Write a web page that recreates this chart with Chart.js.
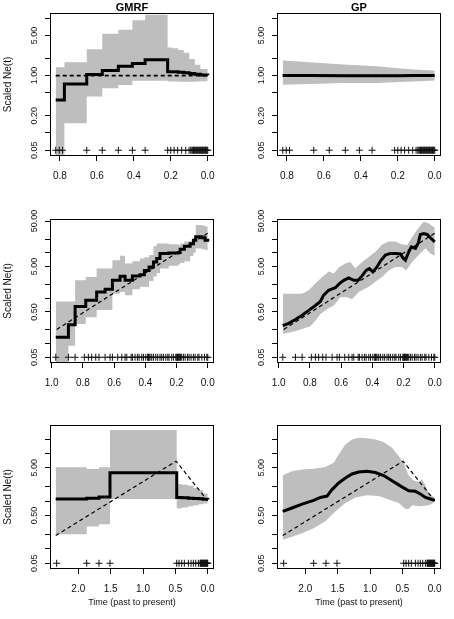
<!DOCTYPE html>
<html><head><meta charset="utf-8">
<script src="https://cdn.jsdelivr.net/npm/chart.js@4.4.1/dist/chart.umd.min.js"></script>
<style>
html,body{margin:0;padding:0;background:#fff;}
#wrap{position:relative;width:454px;height:619px;overflow:hidden;}
canvas{position:absolute;}
</style></head><body>
<div id="wrap">
<canvas id="c1" width="227" height="206" style="left:0;top:0"></canvas>
<canvas id="c2" width="227" height="206" style="left:227px;top:0"></canvas>
<canvas id="c3" width="227" height="206" style="left:0;top:206px"></canvas>
<canvas id="c4" width="227" height="206" style="left:227px;top:206px"></canvas>
<canvas id="c5" width="227" height="207" style="left:0;top:412px"></canvas>
<canvas id="c6" width="227" height="207" style="left:227px;top:412px"></canvas>
</div>
<script>
// ---------- text ----------
const COL_TITLES = ['GMRF', 'GP'];
const Y_TITLE = 'Scaled Ne(t)';
const X_TITLE = 'Time (past to present)';
const PLUS_LEVEL = 0.05;

// ---------- axis ticks ----------
const X_TICKS_CONST = [0, 0.2, 0.4, 0.6, 0.8];
const X_TICKS_EXP = [0, 0.2, 0.4, 0.6, 0.8, 1.0];
const X_TICKS_BB = [0, 0.5, 1.0, 1.5, 2.0];
const Y_TICKS_CONST = [0.05, 0.1, 0.2, 0.5, 1, 2, 5, 10];
const Y_LABEL_VALS_CONST = [0.05, 0.2, 1, 5];
const Y_LABELS_CONST = ['0.05', '0.20', '1.00', '5.00'];
const Y_TICKS_EXP = [0.05, 0.1, 0.2, 0.5, 1, 2, 5, 10, 20, 50];
const Y_LABEL_VALS_EXP = [0.05, 0.5, 5, 50];
const Y_LABELS_EXP = ['0.05', '0.50', '5.00', '50.00'];
const Y_TICKS_BB = [0.05, 0.1, 0.2, 0.5, 1, 2, 5, 10, 20];
const Y_LABEL_VALS_BB = [0.05, 0.5, 5];
const Y_LABELS_BB = ['0.05', '0.50', '5.00'];

// ---------- row 1: constant ----------
const SAMPLES_CONST = [0.823, 0.804, 0.786, 0.655, 0.571, 0.484, 0.408, 0.339, 0.217, 0.200, 0.182, 0.163, 0.141, 0.119, 0.101,
  0.092, 0.086, 0.081, 0.077, 0.072, 0.068, 0.064, 0.060, 0.056, 0.052, 0.048, 0.044, 0.040, 0.036, 0.032, 0.028, 0.024,
  0.020, 0.016, 0.012, 0.008, 0.004, 0.0];
const TRUE_CONST_T = [0.823, 0.0];
const TRUE_CONST_NE = [1, 1];
const GMRF_CONST_T   = [0.823, 0.776, 0.655, 0.571, 0.484, 0.408, 0.339, 0.217, 0.19, 0.16, 0.13, 0.10, 0.07, 0.04, 0.0];
const GMRF_CONST_MED = [0.375, 0.715, 1.04, 1.22, 1.46, 1.62, 1.88, 1.17, 1.16, 1.14, 1.12, 1.09, 1.05, 1.02, 1.01];
const GMRF_CONST_UP  = [1.40, 1.71, 2.88, 5.36, 6.3, 9.17, 11.5, 3.09, 3.0, 2.8, 2.5, 1.95, 1.55, 1.3, 1.25];
const GMRF_CONST_LO  = [0.02, 0.147, 0.43, 0.6, 0.685, 0.81, 0.81, 0.79, 0.79, 0.78, 0.78, 0.78, 0.79, 0.80, 0.80];
const GP_CONST_T   = [0.823, 0.677, 0.495, 0.314, 0.187, 0.114, 0.0];
const GP_CONST_MED = [1.0, 1.0, 0.99, 0.99, 0.99, 1.0, 1.0];
const GP_CONST_UP  = [1.83, 1.71, 1.56, 1.46, 1.33, 1.27, 1.22];
const GP_CONST_LO  = [0.69, 0.71, 0.74, 0.74, 0.77, 0.79, 0.82];

// ---------- row 2: exponential growth ----------
const SAMPLES_EXP = [0.974, 0.893, 0.850, 0.791, 0.765, 0.744, 0.718, 0.697, 0.658, 0.626, 0.611, 0.577, 0.551, 0.530, 0.519,
  0.491, 0.483, 0.466, 0.451, 0.440, 0.423, 0.412, 0.397, 0.385, 0.380, 0.376, 0.370, 0.359, 0.348, 0.333, 0.321, 0.306,
  0.295, 0.284, 0.269, 0.256, 0.248, 0.231, 0.220, 0.205, 0.199, 0.194, 0.190, 0.186, 0.182, 0.175, 0.167, 0.156, 0.145,
  0.130, 0.120, 0.107, 0.092, 0.081, 0.064, 0.056, 0.038, 0.021, 0.006, 0.0];
const TRUE_EXP_T = [0.968, 0.0];
const TRUE_EXP_NE = [0.205, 27];
const GMRF_EXP_T   = [0.974, 0.893, 0.850, 0.782, 0.712, 0.658, 0.611, 0.562, 0.530, 0.483, 0.434, 0.406, 0.376, 0.348, 0.327, 0.306, 0.250, 0.188, 0.177, 0.150, 0.113, 0.092, 0.077, 0.038, 0.017, 0.0];
const GMRF_EXP_MED = [0.138, 0.26, 0.66, 0.90, 1.37, 1.57, 2.48, 3.05, 2.48, 3.1, 3.3, 4.1, 4.9, 6.3, 7.5, 9.7, 9.9, 10.2, 12, 14, 15.8, 19, 22.6, 21.5, 19, 17.5];
const GMRF_EXP_UP  = [0.85, 0.85, 2.48, 2.94, 4.5, 4.5, 6.9, 8.6, 5.8, 6.5, 7.5, 8.0, 9.0, 14, 16, 16, 15.5, 14.9, 16, 17.7, 18, 22, 41, 40, 38, 36];
const GMRF_EXP_LO  = [0.02, 0.09, 0.27, 0.38, 0.55, 0.55, 1.26, 1.37, 1.16, 1.57, 1.78, 1.8, 2.4, 3.0, 3.6, 4.5, 5.2, 5.6, 6.0, 6.5, 8.5, 10, 12.5, 12, 11.5, 11];
const GP_EXP_T   = [0.974, 0.936, 0.893, 0.850, 0.808, 0.765, 0.733, 0.712, 0.680, 0.637, 0.611, 0.583, 0.551, 0.519, 0.491, 0.466, 0.440, 0.419, 0.397, 0.370, 0.348, 0.316, 0.284, 0.252, 0.220, 0.205, 0.188, 0.171, 0.150, 0.124, 0.107, 0.092, 0.070, 0.049, 0.028, 0.0];
const GP_EXP_MED = [0.25, 0.28, 0.34, 0.42, 0.54, 0.69, 0.85, 1.17, 1.5, 1.7, 2.1, 2.48, 2.8, 2.48, 2.48, 3.1, 4.1, 4.5, 3.8, 4.9, 6.6, 8.9, 9.7, 9.7, 9.5, 7.8, 6.9, 9.7, 13.5, 12.5, 16, 25.4, 26.6, 25.4, 21.5, 17.5];
const GP_EXP_UP_T = [0.974, 0.850, 0.808, 0.765, 0.722, 0.679, 0.647, 0.611, 0.573, 0.541, 0.509, 0.466, 0.423, 0.380, 0.338, 0.295, 0.252, 0.209, 0.177, 0.145, 0.103, 0.071, 0.038, 0.0];
const GP_EXP_UP   = [1.26, 1.26, 1.5, 2.1, 2.94, 3.9, 3.5, 4.9, 5.8, 6.3, 4.5, 6.3, 8.1, 10.6, 15, 17.7, 17.7, 15.2, 14.9, 22.3, 35.6, 48.5, 44.5, 35.6];
const GP_EXP_LO_T = [0.974, 0.915, 0.850, 0.797, 0.765, 0.733, 0.690, 0.647, 0.605, 0.562, 0.530, 0.487, 0.455, 0.423, 0.380, 0.338, 0.295, 0.252, 0.209, 0.184, 0.145, 0.103, 0.060, 0.028, 0.0];
const GP_EXP_LO   = [0.164, 0.18, 0.21, 0.24, 0.32, 0.45, 0.58, 0.69, 1.05, 1.05, 0.95, 1.37, 1.57, 1.78, 2.3, 2.94, 4.1, 4.9, 4.9, 4.1, 6.3, 8.9, 12.6, 9.7, 8.5];

// ---------- row 3: boom-bust ----------
const SAMPLES_BB = [2.334, 1.870, 1.68, 1.51, 0.479, 0.443, 0.402, 0.361, 0.299, 0.258, 0.222, 0.185, 0.144, 0.118, 0.110,
  0.102, 0.094, 0.086, 0.078, 0.070, 0.062, 0.054, 0.046, 0.038, 0.030, 0.022, 0.014, 0.006, 0.0];
const TRUE_BB_T = [2.349, 0.489, 0.0];
const TRUE_BB_NE = [0.19, 6.9, 1.02];
const GMRF_BB_T   = [2.349, 1.870, 1.68, 1.51, 0.479, 0.40, 0.30, 0.22, 0.14, 0.07, 0.0];
const GMRF_BB_MED = [1.11, 1.16, 1.22, 3.93, 1.2, 1.18, 1.16, 1.14, 1.12, 1.1, 1.09];
const GMRF_BB_UP  = [5.16, 4.76, 5.16, 31, 2.3, 2.2, 2.1, 1.9, 1.7, 1.45, 1.2];
const GMRF_BB_LO  = [0.204, 0.296, 0.33, 1.11, 0.70, 0.74, 0.78, 0.82, 0.86, 0.9, 0.92];
const GP_BB_T   = [2.349, 2.205, 2.05, 1.87, 1.767, 1.664, 1.587, 1.484, 1.381, 1.278, 1.175, 1.046, 0.917, 0.788, 0.659, 0.556, 0.479, 0.402, 0.299, 0.222, 0.144, 0.067, 0.0];
const GP_BB_MED = [0.61, 0.72, 0.87, 1.04, 1.2, 1.28, 1.75, 2.41, 3.07, 3.72, 4.1, 4.23, 4.0, 3.46, 2.68, 2.2, 1.9, 1.66, 1.61, 1.42, 1.2, 1.11, 1.04];
const GP_BB_UP_T = [2.349, 2.205, 2.05, 1.870, 1.690, 1.561, 1.484, 1.381, 1.278, 1.175, 1.046, 0.917, 0.788, 0.659, 0.556, 0.479, 0.402, 0.325, 0.247, 0.196, 0.155, 0.093, 0.0];
const GP_BB_UP   = [3.5, 4.24, 4.6, 4.8, 5.2, 6.4, 9.5, 15.5, 19.7, 21.5, 20.8, 19.7, 17.5, 13.2, 8.8, 6.4, 3.4, 2.72, 2.5, 2.9, 2.3, 1.5, 1.2];
const GP_BB_LO_T = [2.349, 2.205, 2.05, 1.870, 1.690, 1.535, 1.381, 1.226, 1.046, 0.866, 0.711, 0.556, 0.453, 0.402, 0.350, 0.247, 0.144, 0.067, 0.0];
const GP_BB_LO   = [0.155, 0.18, 0.214, 0.27, 0.38, 0.61, 0.92, 1.2, 1.33, 1.28, 1.08, 0.92, 0.69, 0.69, 0.82, 0.78, 0.80, 0.84, 0.97];

// ---------- styling ----------
const FONT = "'Liberation Sans', Arial, Helvetica, sans-serif";
const BAND_COLOR = '#bebebe';
const TEXT_COLOR = '#111';
Chart.defaults.font.family = FONT;
Chart.defaults.color = TEXT_COLOR;

function pts(T, V) { return T.map((t, i) => ({ x: t, y: V[i] })); }
function bandSets(upT, upV, loT, loV, stepped) {
  return [
    { data: pts(upT, upV), fill: '+1', backgroundColor: BAND_COLOR, borderColor: 'transparent', borderWidth: 0, pointRadius: 0, stepped: stepped, order: 10 },
    { data: pts(loT, loV), fill: false, borderColor: 'transparent', borderWidth: 0, pointRadius: 0, stepped: stepped, order: 11 }
  ];
}
function medianSet(T, V, stepped) {
  return { data: pts(T, V), borderColor: '#000', borderWidth: 3, pointRadius: 0, fill: false, stepped: stepped, order: 2, borderCapStyle: 'butt' };
}
function trueSet(T, V, w) {
  return { data: pts(T, V), borderColor: '#000', borderWidth: w, borderDash: [4, 3], pointRadius: 0, fill: false, order: 5 };
}
function plusSet(T) {
  return { data: T.map(t => ({ x: t, y: PLUS_LEVEL })), showLine: false, pointStyle: 'cross', pointRadius: 3.5,
    pointBorderWidth: 1, pointBorderColor: '#111', borderColor: '#111', order: 1 };
}

function buildChart(id, c) {
  const boxPlugin = {
    id: 'boxAndLabels',
    afterDraw(chart) {
      const a = chart.chartArea, g = chart.ctx, ys = chart.scales.y;
      g.save();
      g.strokeStyle = '#000'; g.lineWidth = 1;
      g.strokeRect(a.left + 0.5, a.top + 0.5, a.right - a.left - 1, a.bottom - a.top - 1);
      g.fillStyle = TEXT_COLOR; g.font = '9px ' + FONT;
      g.textAlign = 'center'; g.textBaseline = 'alphabetic';
      c.yLabelVals.forEach((v, i) => {
        const py = ys.getPixelForValue(v);
        g.save(); g.translate(a.left - 13, py); g.rotate(-Math.PI / 2);
        g.fillText(c.yLabels[i], 0, 0); g.restore();
      });
      if (c.title) {
        g.font = 'bold 11px ' + FONT; g.fillStyle = '#000';
        g.textAlign = 'center'; g.textBaseline = 'middle';
        g.fillText(c.title, (a.left + a.right) / 2, 8);
      }
      g.restore();
    }
  };
  const gridOpts = { drawOnChartArea: false, drawTicks: true, tickLength: 5, color: '#000', tickColor: '#000', tickWidth: 1, lineWidth: 1 };
  return new Chart(document.getElementById(id), {
    type: 'line',
    data: { datasets: c.datasets },
    options: {
      responsive: false, animation: false, devicePixelRatio: 1,
      layout: { padding: { top: 13, right: 13, left: 0, bottom: 0 } },
      plugins: { legend: { display: false }, tooltip: { enabled: false }, title: { display: false } },
      elements: { line: { tension: 0 } },
      scales: {
        x: {
          type: 'linear', reverse: true, min: c.xRange[0], max: c.xRange[1],
          afterBuildTicks: s => { s.ticks = c.xTicks.map(v => ({ value: v })); },
          afterFit: s => { s.height = c.xAxisHeight; },
          ticks: { autoSkip: false, maxRotation: 0, minRotation: 0, padding: 9, font: { size: 10 }, color: TEXT_COLOR,
            callback: v => Number(v).toFixed(1) },
          grid: gridOpts, border: { display: false },
          title: { display: c.xTitle, text: X_TITLE, font: { size: 9 }, color: TEXT_COLOR, padding: { top: 0, bottom: 11 } }
        },
        y: {
          type: 'logarithmic', min: c.yRange[0], max: c.yRange[1],
          afterBuildTicks: s => { s.ticks = c.yTicks.map(v => ({ value: v })); },
          afterFit: s => { s.width = 50; },
          ticks: { display: false },
          grid: gridOpts, border: { display: false },
          title: { display: c.yTitle, text: Y_TITLE, font: { size: 10 }, color: TEXT_COLOR, padding: { top: 2, bottom: 0 } }
        }
      }
    },
    plugins: [boxPlugin]
  });
}

const RANGE_X_CONST = [-0.034, 0.854], RANGE_Y_CONST = [0.0397, 12.3];
const RANGE_X_EXP = [-0.040, 1.011], RANGE_Y_EXP = [0.0374, 55.6];
const RANGE_X_BB = [-0.097, 2.437], RANGE_Y_BB = [0.0379, 39.6];

buildChart('c1', { title: COL_TITLES[0], yTitle: true, xTitle: false, xAxisHeight: 50,
  xRange: RANGE_X_CONST, xTicks: X_TICKS_CONST, yRange: RANGE_Y_CONST, yTicks: Y_TICKS_CONST,
  yLabelVals: Y_LABEL_VALS_CONST, yLabels: Y_LABELS_CONST,
  datasets: [...bandSets(GMRF_CONST_T, GMRF_CONST_UP, GMRF_CONST_T, GMRF_CONST_LO, true),
    trueSet(TRUE_CONST_T, TRUE_CONST_NE, 1.8), medianSet(GMRF_CONST_T, GMRF_CONST_MED, true), plusSet(SAMPLES_CONST)] });
buildChart('c2', { title: COL_TITLES[1], yTitle: false, xTitle: false, xAxisHeight: 50,
  xRange: RANGE_X_CONST, xTicks: X_TICKS_CONST, yRange: RANGE_Y_CONST, yTicks: Y_TICKS_CONST,
  yLabelVals: Y_LABEL_VALS_CONST, yLabels: Y_LABELS_CONST,
  datasets: [...bandSets(GP_CONST_T, GP_CONST_UP, GP_CONST_T, GP_CONST_LO, false),
    trueSet(TRUE_CONST_T, TRUE_CONST_NE, 1.8), medianSet(GP_CONST_T, GP_CONST_MED, false), plusSet(SAMPLES_CONST)] });
buildChart('c3', { title: null, yTitle: true, xTitle: false, xAxisHeight: 49,
  xRange: RANGE_X_EXP, xTicks: X_TICKS_EXP, yRange: RANGE_Y_EXP, yTicks: Y_TICKS_EXP,
  yLabelVals: Y_LABEL_VALS_EXP, yLabels: Y_LABELS_EXP,
  datasets: [...bandSets(GMRF_EXP_T, GMRF_EXP_UP, GMRF_EXP_T, GMRF_EXP_LO, true),
    trueSet(TRUE_EXP_T, TRUE_EXP_NE, 1.2), medianSet(GMRF_EXP_T, GMRF_EXP_MED, true), plusSet(SAMPLES_EXP)] });
buildChart('c4', { title: null, yTitle: false, xTitle: false, xAxisHeight: 49,
  xRange: RANGE_X_EXP, xTicks: X_TICKS_EXP, yRange: RANGE_Y_EXP, yTicks: Y_TICKS_EXP,
  yLabelVals: Y_LABEL_VALS_EXP, yLabels: Y_LABELS_EXP,
  datasets: [...bandSets(GP_EXP_UP_T, GP_EXP_UP, GP_EXP_LO_T, GP_EXP_LO, false),
    trueSet(TRUE_EXP_T, TRUE_EXP_NE, 1.2), medianSet(GP_EXP_T, GP_EXP_MED, false), plusSet(SAMPLES_EXP)] });
buildChart('c5', { title: null, yTitle: true, xTitle: true, xAxisHeight: 50,
  xRange: RANGE_X_BB, xTicks: X_TICKS_BB, yRange: RANGE_Y_BB, yTicks: Y_TICKS_BB,
  yLabelVals: Y_LABEL_VALS_BB, yLabels: Y_LABELS_BB,
  datasets: [...bandSets(GMRF_BB_T, GMRF_BB_UP, GMRF_BB_T, GMRF_BB_LO, true),
    trueSet(TRUE_BB_T, TRUE_BB_NE, 1.2), medianSet(GMRF_BB_T, GMRF_BB_MED, true), plusSet(SAMPLES_BB)] });
buildChart('c6', { title: null, yTitle: false, xTitle: true, xAxisHeight: 50,
  xRange: RANGE_X_BB, xTicks: X_TICKS_BB, yRange: RANGE_Y_BB, yTicks: Y_TICKS_BB,
  yLabelVals: Y_LABEL_VALS_BB, yLabels: Y_LABELS_BB,
  datasets: [...bandSets(GP_BB_UP_T, GP_BB_UP, GP_BB_LO_T, GP_BB_LO, false),
    trueSet(TRUE_BB_T, TRUE_BB_NE, 1.2), medianSet(GP_BB_T, GP_BB_MED, false), plusSet(SAMPLES_BB)] });
</script>
</body></html>
